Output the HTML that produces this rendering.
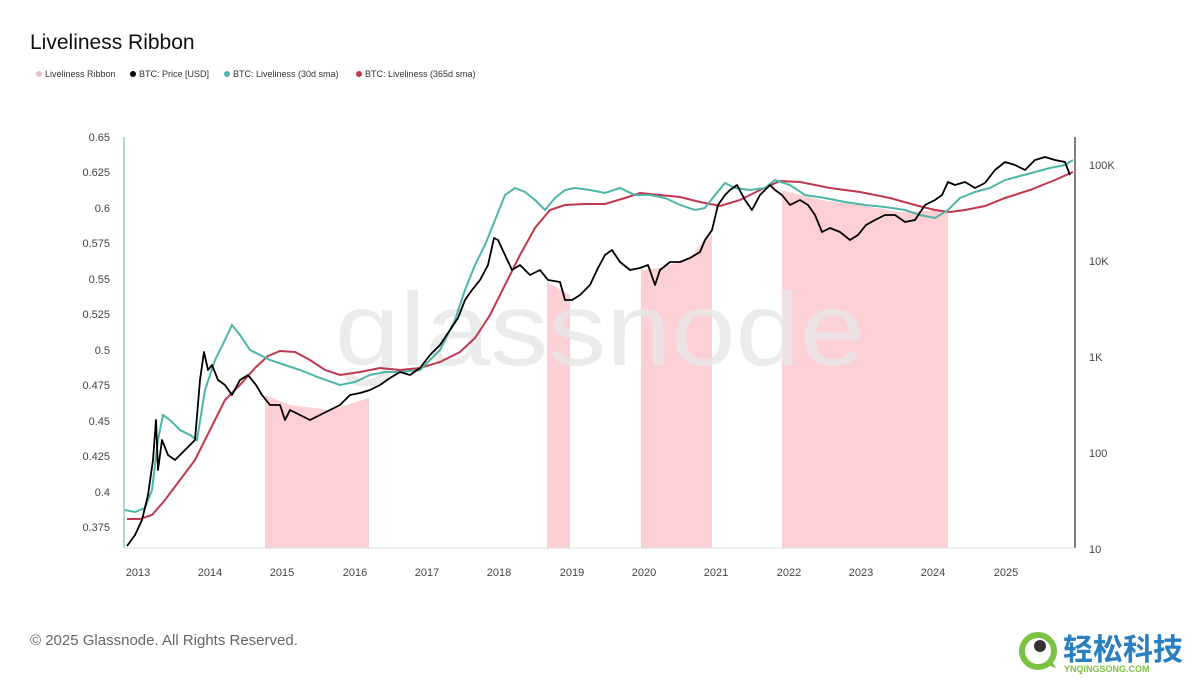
<!DOCTYPE html>
<html><head><meta charset="utf-8"><style>
body{margin:0;background:#fff;width:1200px;height:675px;overflow:hidden;font-family:"Liberation Sans",sans-serif}
</style></head><body>
<svg width="1200" height="675" xmlns="http://www.w3.org/2000/svg" font-family="Liberation Sans, sans-serif">
<text x="30" y="49" font-size="21" fill="#111">Liveliness Ribbon</text>
<g font-size="9" fill="#333">
<circle cx="39" cy="74" r="3" fill="#f0c0c8"/><text x="45" y="77">Liveliness Ribbon</text>
<circle cx="133" cy="74" r="3" fill="#000"/><text x="139" y="77">BTC: Price [USD]</text>
<circle cx="227" cy="74" r="3" fill="#4db6a8"/><text x="233" y="77">BTC: Liveliness (30d sma)</text>
<circle cx="359" cy="74" r="3" fill="#c0384f"/><text x="365" y="77">BTC: Liveliness (365d sma)</text>
</g>
<g fill="#fdd0d6">
<polygon points="265,395 290,405 330,410 369,398 369,548 265,548"/>
<polygon points="547,282 570,295 570,548 547,548"/>
<polygon points="641,270 660,268 690,258 712,230 712,548 641,548"/>
<polygon points="782,190 820,200 860,205 900,212 948,210 948,548 782,548"/>
</g>
<text x="335" y="365" font-size="104" fill="#e6e6e6" fill-opacity="0.8" textLength="530" lengthAdjust="spacingAndGlyphs">glassnode</text>
<line x1="124" y1="137" x2="124" y2="548" stroke="#4db6a8" stroke-width="1"/>
<line x1="1075" y1="137" x2="1075" y2="548" stroke="#000" stroke-width="1"/>
<line x1="124" y1="548" x2="1075" y2="548" stroke="#ddd"/>
<g font-size="11" fill="#444" text-anchor="end">
<text x="110" y="141">0.65</text><text x="110" y="176">0.625</text><text x="110" y="212">0.6</text><text x="110" y="247">0.575</text><text x="110" y="283">0.55</text><text x="110" y="318">0.525</text><text x="110" y="354">0.5</text><text x="110" y="389">0.475</text><text x="110" y="425">0.45</text><text x="110" y="460">0.425</text><text x="110" y="496">0.4</text><text x="110" y="531">0.375</text>
</g>
<g font-size="11" fill="#444">
<text x="1089" y="169">100K</text><text x="1089" y="265">10K</text><text x="1089" y="361">1K</text><text x="1089" y="457">100</text><text x="1089" y="553">10</text>
</g>
<g font-size="11" fill="#444" text-anchor="middle">
<text x="138" y="576">2013</text><text x="210" y="576">2014</text><text x="282" y="576">2015</text><text x="355" y="576">2016</text><text x="427" y="576">2017</text><text x="499" y="576">2018</text><text x="572" y="576">2019</text><text x="644" y="576">2020</text><text x="716" y="576">2021</text><text x="789" y="576">2022</text><text x="861" y="576">2023</text><text x="933" y="576">2024</text><text x="1006" y="576">2025</text>
</g>
<polyline fill="none" stroke="#c0384f" stroke-width="2" points="127,519 140,519 152,515 165,500 180,480 195,460 210,430 225,400 240,385 255,368 268,356 280,351 295,352 310,360 325,370 340,375 360,372 380,368 400,370 420,368 440,362 460,352 475,338 490,315 505,285 520,255 535,228 550,210 565,205 585,204 605,204 625,198 640,193 660,195 680,197 700,202 720,206 740,200 760,190 780,181 800,182 830,188 860,192 890,198 915,205 935,210 950,212 965,210 985,206 1005,198 1030,190 1055,180 1073,172"/>
<polyline fill="none" stroke="#4db6a8" stroke-width="2" points="125,510 135,512 145,508 152,490 158,440 163,415 170,420 180,430 190,435 197,440 205,390 215,360 225,340 232,325 240,335 250,350 260,355 270,360 285,365 300,370 320,378 340,385 355,382 370,375 385,372 400,372 420,370 440,350 455,320 465,290 475,265 485,245 495,220 505,195 515,188 525,192 535,200 545,210 555,198 565,190 575,188 590,190 605,193 620,188 635,195 650,195 665,198 680,205 695,210 705,208 715,195 725,183 735,188 750,190 765,188 775,180 790,185 805,195 825,198 845,202 865,205 885,207 905,210 920,215 935,218 948,210 960,198 975,192 990,188 1005,180 1020,176 1035,172 1050,168 1065,165 1073,160"/>
<polyline fill="none" stroke="#000" stroke-width="1.8" stroke-linejoin="round" points="127,546 135,535 142,520 148,495 153,460 156,420 158,470 162,440 168,455 175,460 185,450 195,440 200,380 204,352 208,370 212,365 218,380 225,385 232,395 240,380 248,375 256,385 262,395 270,405 280,405 285,420 290,410 300,415 310,420 320,415 330,410 340,405 350,395 360,393 370,390 380,385 390,378 400,372 410,375 420,368 430,355 440,345 450,330 458,318 465,300 472,290 480,280 488,265 494,238 498,240 505,255 512,270 520,265 530,275 540,270 548,280 560,282 565,300 572,300 580,295 590,285 598,268 605,255 612,250 620,262 630,270 640,268 648,265 655,285 660,270 670,262 680,262 690,258 700,252 705,240 712,230 718,205 725,195 730,190 737,185 745,200 752,210 760,195 765,190 770,185 775,190 782,195 790,205 800,200 808,205 815,215 822,232 830,228 840,232 850,240 858,235 866,225 875,220 885,215 895,215 905,222 915,220 925,205 935,200 942,195 948,182 955,185 965,182 975,188 985,183 995,170 1005,162 1015,165 1025,170 1035,160 1045,157 1055,160 1065,162 1070,175"/>
<text x="30" y="645" font-size="15" fill="#666">© 2025 Glassnode. All Rights Reserved.</text>
<circle cx="1038" cy="651" r="16" fill="none" stroke="#7cc242" stroke-width="6"/>
<path d="M1044,664 L1056,668 L1050,658 Z" fill="#7cc242"/>
<circle cx="1040" cy="646" r="6" fill="#333"/>
<text x="1063" y="660" font-size="30" font-weight="bold" fill="#2a7fc0" font-family="Liberation Sans, Noto Sans CJK SC, sans-serif">轻松科技</text>
<text x="1064" y="672" font-size="9" font-weight="bold" fill="#7cc242">YNQINGSONG.COM</text>
</svg>
</body></html>
